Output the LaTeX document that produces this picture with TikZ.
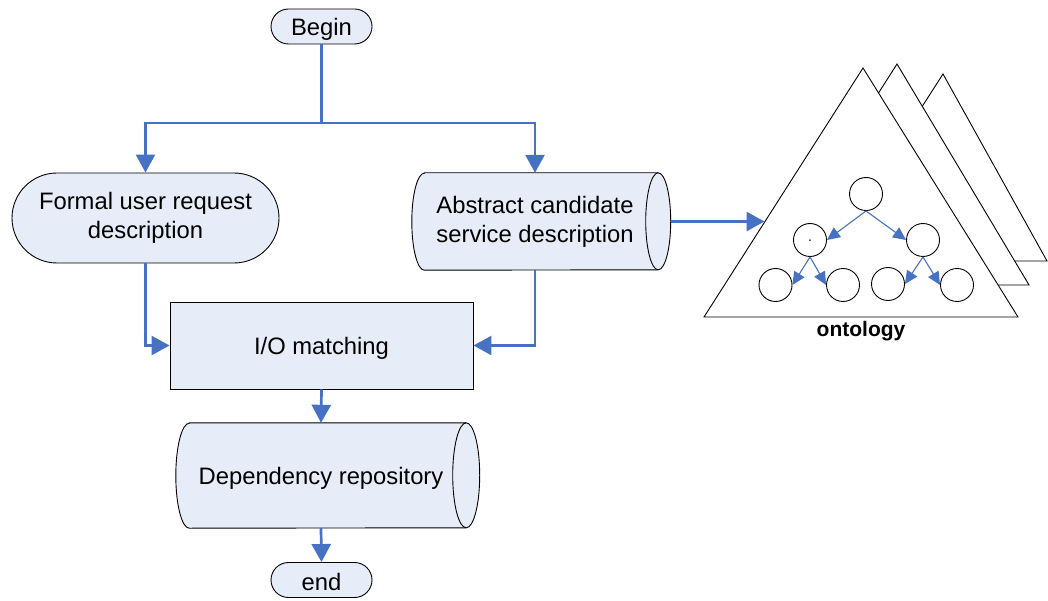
\documentclass[tikz,border=0pt]{standalone}
\usepackage{fontspec}
\setmainfont{Liberation Sans}
\usetikzlibrary{arrows.meta,backgrounds}

\definecolor{flowblue}{RGB}{71,114,196}
\definecolor{boxfill}{RGB}{231,237,248}

\tikzset{
  labeltext/.style={font=\fontsize{23.8}{29}\selectfont,
    execute at begin node={\rule{0pt}{22pt}}},
  box/.style={draw=black, line width=0.9pt, fill=boxfill, align=center,
    inner sep=0pt, labeltext},
  pill/.style={box, rounded corners=17.5pt, minimum width=101pt, minimum height=35pt},
  drumlabel/.style={align=center, inner sep=0pt, labeltext},
  drumbody/.style={draw=black, line width=0.9pt, fill=boxfill},
  drumedge/.style={draw=black, line width=0.9pt},
  flowline/.style={draw=flowblue, line width=2.7pt},
  flow/.style={flowline, -{Triangle[length=18pt,width=19pt]}},
  sheet/.style={draw=black, line width=0.9pt, fill=white, line join=miter},
  concept/.style={circle, draw=black, line width=0.9pt, fill=white,
    minimum size=33pt, inner sep=0pt, font=\fontsize{14}{14}\selectfont},
  treearrow/.style={draw=flowblue, line width=1.1pt, -{Triangle[length=13pt,width=12pt]}},
}

% horizontal drum: #1 label node, #2 end radius, #3 half height
\newcommand\drumshape[3]{%
  \path[drumbody] ([xshift=#2]#1.north west) -- (#1.north east)
    arc[start angle=90,end angle=-90,x radius=#2,y radius=#3]
    -- ([xshift=#2]#1.south west)
    arc[start angle=270,end angle=90,x radius=#2,y radius=#3] -- cycle;
  \path[drumedge] (#1.north east)
    arc[start angle=90,end angle=270,x radius=#2,y radius=#3];
}

\begin{document}
\begin{tikzpicture}[x=1pt,y=-1pt]
\useasboundingbox (0,0) rectangle (1048,601);

% flow chart
\node[pill] (begin) at (321.5,26.5) {Begin};
\node[box, rounded corners=45pt, minimum width=267pt, minimum height=90pt]
  (formal) at (145.5,218) {Formal user request\\description};
\node[drumlabel, minimum width=246pt, minimum height=97pt]
  (abs) at (535,221.5) {Abstract candidate\\service description};
\node[box, minimum width=303pt, minimum height=87pt] (io) at (321.5,345.5) {I/O matching};
\node[drumlabel, minimum width=290pt, minimum height=105pt]
  (dep) at (321,475.5) {Dependency repository};
\node[pill] (finish) at (321.5,580) {end};

\begin{pgfonlayer}{background}
  \drumshape{abs}{12.5pt}{48.5pt}
  \drumshape{dep}{13.5pt}{52.5pt}
\end{pgfonlayer}

\coordinate (split) at (321.5,123);
\draw[flowline] (begin.south) -- (split);
\draw[flow] (split) -| (formal.north);
\draw[flow] (split) -| (abs.north);
\draw[flow] (formal.south) |- (io.west);
\draw[flow] (abs.south) |- (io.east);
\draw[flow] (io.south) -- (dep.north);
\draw[flow] (dep.south) -- (finish.north);

% stacked ontology sheets
\path[sheet] (943,74) -- (1047,261) -- (823,261) -- cycle;
\path[sheet] (897,64) -- (1029,285) -- (756,285) -- cycle;
\path[sheet] (863,68) -- (1018,317) -- (704,317) -- cycle;
\coordinate (ontin) at (764.5,221.5);
\draw[flow] ([xshift=12.5pt]abs.east) -- (ontin);

\node[concept] (root) at (866,194) {};
\node[concept] (lm) at (810,240) {\raisebox{-4pt}{.}};
\node[concept] (rm) at (923,240) {};
\node[concept] (l1) at (775.5,285) {};
\node[concept] (l2) at (843,285) {};
\node[concept] (l3) at (888,284) {};
\node[concept] (l4) at (957,285) {};

\draw[treearrow] (root.south) -- (lm.east);
\draw[treearrow] (root.south) -- (rm.west);
\draw[treearrow] (lm.south) -- (l1.east);
\draw[treearrow] (lm.south) -- (l2.west);
\draw[treearrow] (rm.south) -- (l3.east);
\draw[treearrow] (rm.south) -- (l4.west);

\node[font=\bfseries\fontsize{21}{24}\selectfont,
  execute at begin node={\rule{0pt}{19pt}}] (ontlabel) at (861,329.5) {ontology};
\end{tikzpicture}
\end{document}
